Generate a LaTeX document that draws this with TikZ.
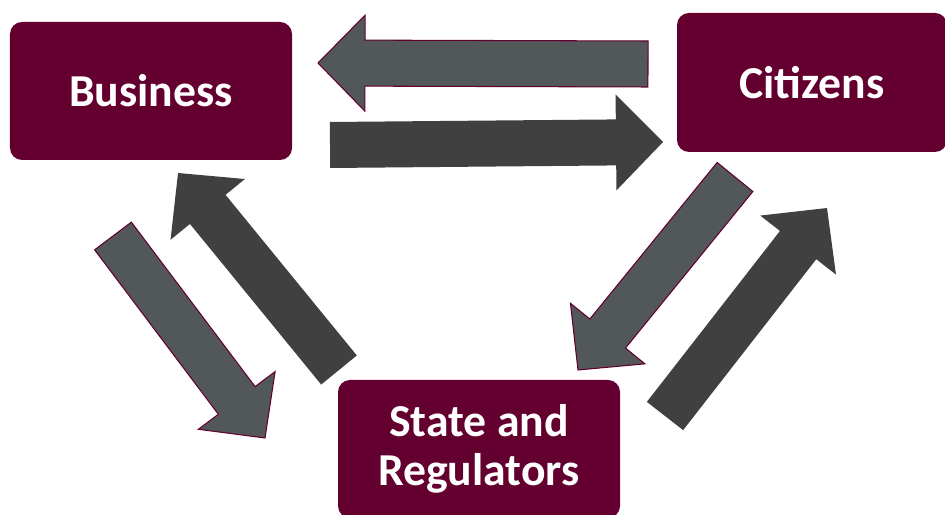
\documentclass[tikz,border=0pt]{standalone}
\usepackage{fontspec}
\setmainfont{Carlito}
\usepackage{xcolor}
\usepackage{tikz}
\usetikzlibrary{calc}
\definecolor{wine}{RGB}{100, 0, 48}
\definecolor{slategray}{RGB}{82, 88, 90}
\definecolor{charcoal}{RGB}{64, 64, 64}

% block arrow from tail #2 to tip #3, drawn in style #1
\newcommand{\flow}[3]{%
  \coordinate (hb) at ($(#3)!9.4mm!(#2)$);
  \path[#1] ($(#2)!4.6mm!90:(#3)$) -- ($(hb)!4.6mm!90:(#3)$)
    -- ($(hb)!9.6mm!90:(#3)$) -- (#3) -- ($(hb)!9.6mm!-90:(#3)$)
    -- ($(hb)!4.6mm!-90:(#3)$) -- ($(#2)!4.6mm!-90:(#3)$) -- cycle;
}

\begin{document}
\begin{tikzpicture}[
    x=0.2mm, y=-0.2mm,
    party/.style={rectangle, rounded corners=2.4mm, fill=wine, text=white,
                  minimum width=56.4mm, minimum height=27.6mm, align=center,
                  font=\fontsize{26}{28}\selectfont\bfseries},
    back/.style={fill=slategray, draw=wine, line width=0.6pt, line join=miter},
    forth/.style={fill=charcoal}
]
\useasboundingbox (0,0) rectangle (945,515);

%% Parties
\node[party] (BUS) at (151, 91)  {Business};
\node[party, minimum width=54mm, minimum height=27.8mm] (CIT) at (812, 82.5) {Citizens};
\node[party] (ST)  at (479, 449) {State and\\Regulators};

%% Arrow end points
\coordinate (cb-tail) at (648, 64);   \coordinate (cb-tip) at (318, 63);
\coordinate (bc-tail) at (330, 145);  \coordinate (bc-tip) at (663, 142);
\coordinate (bs-tail) at (113, 236);  \coordinate (bs-tip) at (265, 438);
\coordinate (sb-tail) at (339, 370);  \coordinate (sb-tip) at (178, 173);
\coordinate (cs-tail) at (735, 177);  \coordinate (cs-tip) at (578, 370);
\coordinate (sc-tail) at (665, 416);  \coordinate (sc-tip) at (827, 208);

%% Flows between the parties
\flow{back}{cb-tail}{cb-tip}
\flow{forth}{bc-tail}{bc-tip}
\flow{back}{bs-tail}{bs-tip}
\flow{forth}{sb-tail}{sb-tip}
\flow{back}{cs-tail}{cs-tip}
\flow{forth}{sc-tail}{sc-tip}

\end{tikzpicture}
\end{document}
